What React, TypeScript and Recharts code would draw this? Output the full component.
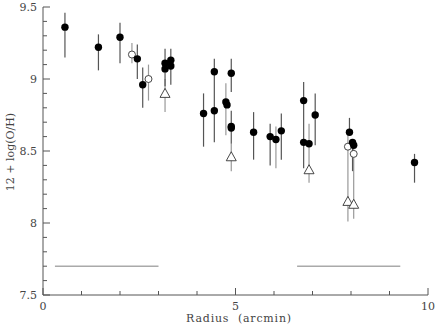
import { ScatterChart, Scatter, XAxis, YAxis, ErrorBar, ReferenceLine } from 'recharts';

// [radius, value, low, high]
const filledDark = [
  [0.57, 9.36, 9.15, 9.46],
  [1.44, 9.22, 9.06, 9.31],
  [2.0, 9.29, 9.11, 9.39],
  [2.45, 9.14, 9.0, 9.24],
  [2.59, 8.96, 8.8, 9.08],
  [3.17, 9.11, 9.11, 9.21],
  [3.17, 9.07, 8.95, 9.07],
  [3.32, 9.13, 9.13, 9.21],
  [3.32, 9.09, 8.96, 9.09],
  [4.17, 8.76, 8.53, 8.9],
  [4.45, 9.05, 9.05, 9.14],
  [4.45, 8.78, 8.56, 9.05],
  [4.89, 9.04, 8.91, 9.14],
  [4.89, 8.67, 8.67, 8.78],
  [4.89, 8.66, 8.55, 8.66],
  [5.47, 8.63, 8.44, 8.77],
  [5.9, 8.6, 8.4, 8.69],
  [6.19, 8.64, 8.44, 8.76],
  [6.77, 8.85, 8.85, 8.98],
  [6.77, 8.56, 8.38, 8.85],
  [7.07, 8.75, 8.54, 8.9],
  [7.96, 8.63, 8.63, 8.73],
  [8.04, 8.56, 8.36, 8.56],
  [8.07, 8.54, 8.54, 8.54],
  [9.65, 8.42, 8.28, 8.48],
];

const filledGray = [
  [4.75, 8.84, 8.61, 8.97],
  [4.78, 8.82, 8.82, 8.82],
  [6.05, 8.58, 8.38, 8.67],
  [6.91, 8.55, 8.55, 8.55],
];

const openCircles = [
  [2.31, 9.17, 9.11, 9.25],
  [2.74, 9.0, 8.85, 9.1],
  [7.92, 8.53, 8.53, 8.53],
  [8.07, 8.48, 8.48, 8.48],
];

const triangles = [
  [3.17, 8.9, 8.77, 9.0],
  [4.89, 8.46, 8.36, 8.55],
  [6.91, 8.37, 8.28, 8.69],
  [7.92, 8.15, 8.01, 8.61],
  [8.07, 8.13, 8.03, 8.53],
];

const baselines = [
  { x1: 0.31, x2: 3.0, y: 7.7 },
  { x1: 6.6, x2: 9.28, y: 7.7 },
];

const xTicks = [0, 1, 2, 3, 4, 5, 6, 7, 8, 9, 10];
const xLabels = [0, 5, 10];
const yTicks = [
  7.5, 7.6, 7.7, 7.8, 7.9, 8, 8.1, 8.2, 8.3, 8.4, 8.5, 8.6, 8.7, 8.8, 8.9, 9, 9.1, 9.2, 9.3, 9.4, 9.5,
];
const yLabels = [7.5, 8, 8.5, 9, 9.5];

const toPoints = (rows: number[][]) =>
  rows.map(([x, y, lo, hi]) => ({ x, y, err: [y - lo, hi - y] }));

const FONT = 'DejaVu Serif';
const AXIS = '#555';
const TEXT = '#444';

const BottomTick = ({ x, y, payload }: any) => {
  const major = xLabels.includes(payload.value);
  return (
    <g>
      <line x1={x} y1={y} x2={x} y2={y - (major ? 7 : 4)} stroke={AXIS} />
      {major && (
        <text x={x} y={y + 15} textAnchor="middle" fontFamily={FONT} fontSize={11} fill={TEXT}>
          {payload.value}
        </text>
      )}
    </g>
  );
};

const TopTick = ({ x, y, payload }: any) => {
  const major = xLabels.includes(payload.value);
  return <line x1={x} y1={y} x2={x} y2={y + (major ? 7 : 4)} stroke={AXIS} />;
};

const LeftTick = ({ x, y, payload }: any) => {
  const major = yLabels.includes(payload.value);
  return (
    <g>
      <line x1={x} y1={y} x2={x + (major ? 7 : 4)} y2={y} stroke={AXIS} />
      {major && (
        <text x={x - 6} y={y + 4} textAnchor="end" fontFamily={FONT} fontSize={11} fill={TEXT}>
          {payload.value}
        </text>
      )}
    </g>
  );
};

const RightTick = ({ x, y, payload }: any) => {
  const major = yLabels.includes(payload.value);
  return <line x1={x} y1={y} x2={x - (major ? 7 : 4)} y2={y} stroke={AXIS} />;
};

const Dot = ({ cx, cy }: any) => <circle cx={cx} cy={cy} r={3.7} fill="#000" />;
const Ring = ({ cx, cy }: any) => <circle cx={cx} cy={cy} r={3.5} fill="#fff" stroke="#333" strokeWidth={0.9} />;
const Tri = ({ cx, cy }: any) => (
  <path
    d={`M${cx},${cy - 5}L${cx - 5},${cy + 4}L${cx + 5},${cy + 4}Z`}
    fill="#fff"
    stroke="#333"
    strokeWidth={0.9}
  />
);

export default function App() {
  return (
    <div style={{ position: 'absolute', left: 0, top: 0 }}>
      <ScatterChart width={445} height={327} margin={{ top: 7, right: 17, bottom: 0, left: 0 }}>
        <XAxis
          type="number"
          dataKey="x"
          domain={[0, 10]}
          ticks={xTicks}
          interval={0}
          tickSize={0}
          tickMargin={0}
          tick={<BottomTick />}
          height={32}
          stroke={AXIS}
          label={{
            content: () => (
              <text
                x={239}
                y={322}
                textAnchor="middle"
                fontFamily={FONT}
                fontSize={11}
                letterSpacing={0.8}
                fill={TEXT}
                style={{ whiteSpace: 'pre' }}
              >
                {'Radius  (arcmin)'}
              </text>
            ),
          }}
        />
        <XAxis
          xAxisId="top"
          orientation="top"
          type="number"
          dataKey="x"
          domain={[0, 10]}
          ticks={xTicks}
          interval={0}
          tickSize={0}
          tickMargin={0}
          tick={<TopTick />}
          height={0}
          stroke={AXIS}
        />
        <YAxis
          type="number"
          dataKey="y"
          domain={[7.5, 9.5]}
          ticks={yTicks}
          interval={0}
          tickSize={0}
          tickMargin={0}
          tick={<LeftTick />}
          width={43}
          stroke={AXIS}
          label={{
            content: () => (
              <text
                x={14}
                y={152}
                textAnchor="middle"
                fontFamily={FONT}
                fontSize={11}
                fill={TEXT}
                transform="rotate(-90 14 152)"
              >
                12 + log(O/H)
              </text>
            ),
          }}
        />
        <YAxis
          yAxisId="right"
          orientation="right"
          type="number"
          dataKey="y"
          domain={[7.5, 9.5]}
          ticks={yTicks}
          interval={0}
          tickSize={0}
          tickMargin={0}
          tick={<RightTick />}
          width={0}
          stroke={AXIS}
        />
        {baselines.map((b, i) => (
          <ReferenceLine
            key={i}
            segment={[
              { x: b.x1, y: b.y },
              { x: b.x2, y: b.y },
            ]}
            stroke="#aaa"
            strokeWidth={1.5}
          />
        ))}
        <Scatter data={toPoints(filledGray)} shape={<Dot />} isAnimationActive={false}>
          <ErrorBar dataKey="err" direction="y" width={0} stroke="#999" strokeWidth={1.2} />
        </Scatter>
        <Scatter data={toPoints(triangles)} shape={<Tri />} isAnimationActive={false}>
          <ErrorBar dataKey="err" direction="y" width={0} stroke="#999" strokeWidth={1.2} />
        </Scatter>
        <Scatter data={toPoints(openCircles)} shape={<Ring />} isAnimationActive={false}>
          <ErrorBar dataKey="err" direction="y" width={0} stroke="#999" strokeWidth={1.2} />
        </Scatter>
        <Scatter data={toPoints(filledDark)} shape={<Dot />} isAnimationActive={false}>
          <ErrorBar dataKey="err" direction="y" width={0} stroke="#555" strokeWidth={1.2} />
        </Scatter>
      </ScatterChart>
    </div>
  );
}
